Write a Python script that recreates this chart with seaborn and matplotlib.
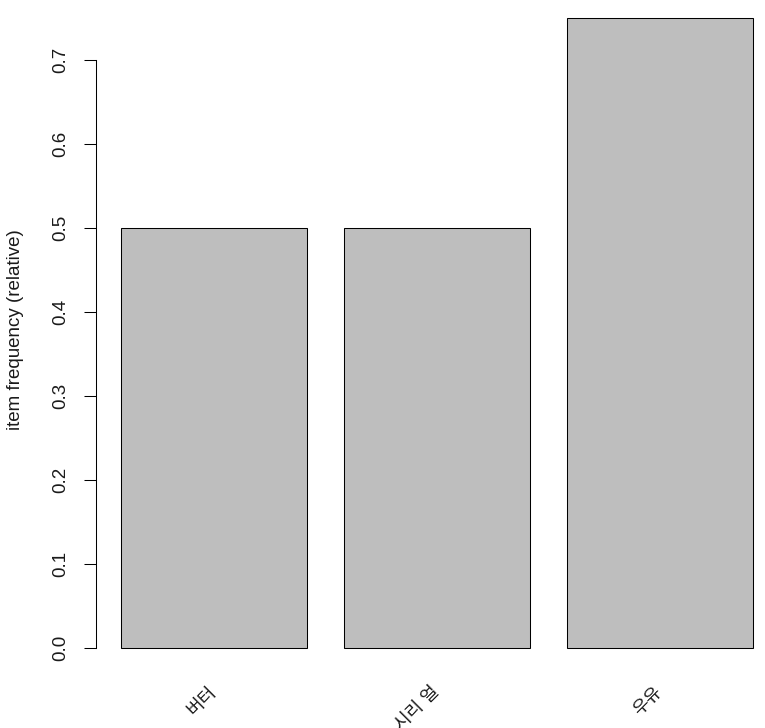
import matplotlib
matplotlib.use("Agg")
import matplotlib.pyplot as plt
import seaborn as sns
import pandas as pd

# item frequencies
items = ["버터", "시리 얼", "우유"]
freq = [0.50, 0.50, 0.75]
y_ticks = [0.0, 0.1, 0.2, 0.3, 0.4, 0.5, 0.6, 0.7]

sns.set_theme(style="white")
plt.rcParams["font.family"] = ["Liberation Sans", "Noto Sans CJK KR", "DejaVu Sans"]

df = pd.DataFrame({"item": items, "freq": freq})

W, H = 765, 728
fig = plt.figure(figsize=(W / 100, H / 100), dpi=100)
fig.patch.set_facecolor("white")
# plot region in pixels: left 96, bottom 673, runs past top/right edge like the original
ax = fig.add_axes([96 / W, (H - 673) / H, (W - 96) / W, 673 / H])

sns.barplot(data=df, x="item", y="freq", color="#BEBEBE", saturation=1,
            edgecolor="black", linewidth=0.75, width=0.835, ax=ax)

ax.set_xlim(-0.5296, 2.473)
ax.set_ylim(-0.0298, 673 / 840 - 0.0298)

# y axis in base-R style
ax.set_yticks(y_ticks)
ax.set_yticklabels([f"{t:.1f}" for t in y_ticks], rotation=90, va="center", fontsize=13.5)
ax.tick_params(axis="y", left=True, length=9, width=0.75, color="black",
               pad=10, labelcolor="#1a1a1a")
for s in ["top", "right", "bottom"]:
    ax.spines[s].set_visible(False)
ax.spines["left"].set_bounds(0, 0.7)
ax.spines["left"].set_color("black")
ax.spines["left"].set_linewidth(0.75)
ax.set_ylabel("item frequency (relative)", fontsize=13.5, color="#1a1a1a")
ax.yaxis.set_label_coords(-0.108, 0.51)

# rotated item labels below the bars
ax.tick_params(axis="x", bottom=False, length=0, pad=12)
ax.set_xlabel("")
ax.set_xticks(range(len(items)))
ax.set_xticklabels(items, rotation=45, ha="right", va="center",
                   rotation_mode="anchor", fontsize=13, color="#1a1a1a")

ax.grid(False)
fig.savefig("out.png", dpi=100, facecolor="white")
